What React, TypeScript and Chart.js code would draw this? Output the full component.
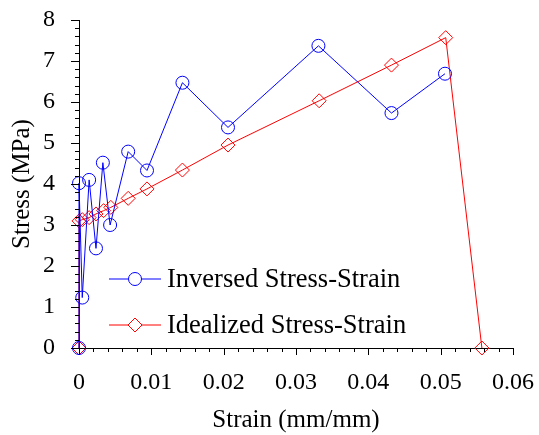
import React, { useEffect, useRef } from "react";
import { Chart, registerables } from "chart.js";

Chart.register(...registerables);

// Shared strain values (mm/mm)
const strainValues = [0, 0, 0.00045, 0.0014, 0.00235, 0.0033, 0.0043, 0.0068, 0.0094, 0.0143, 0.0206, 0.0331, 0.0432, 0.0506];
const inversedStress = [0, 4.02, 1.23, 4.1, 2.43, 4.52, 3.0, 4.79, 4.33, 6.47, 5.38, 7.37, 5.73, 6.69];
const idealizedStrain = [0, 0, 0.00045, 0.0014, 0.00235, 0.0034, 0.0044, 0.0068, 0.0094, 0.0143, 0.0206, 0.0332, 0.0432, 0.0507, 0.0557];
const idealizedStress = [0, 3.1, 3.13, 3.18, 3.27, 3.35, 3.43, 3.65, 3.88, 4.34, 4.95, 6.03, 6.9, 7.57, 0];
const seriesNames = ["Inversed Stress-Strain", "Idealized Stress-Strain"];
const xTickLabels = ["0", "0.01", "0.02", "0.03", "0.04", "0.05", "0.06"];
const yTickLabels = ["0", "1", "2", "3", "4", "5", "6", "7", "8"];
const xTitle = "Strain (mm/mm)";
const yTitle = "Stress (MPa)";

const FONT = "'Liberation Serif', 'Times New Roman', serif";
const BLUE = "#0000ff";
const RED = "#ff0000";

const tickPlugin = {
  id: "minorTicks",
  afterDraw(chart: any) {
    const ctx = chart.ctx;
    const xs = chart.scales.x;
    const ys = chart.scales.y;
    ctx.save();
    ctx.strokeStyle = "#000";
    ctx.lineWidth = 1;
    ctx.beginPath();
    for (let i = 0; i <= 30; i++) {
      const v = i * 0.002;
      const px = Math.round(xs.getPixelForValue(v)) + 0.5;
      const len = i % 5 === 0 ? 7 : 4;
      ctx.moveTo(px, ys.bottom);
      ctx.lineTo(px, ys.bottom + len);
    }
    for (let i = 0; i <= 40; i++) {
      const v = i * 0.2;
      const py = Math.round(ys.getPixelForValue(v)) + 0.5;
      const len = i % 5 === 0 ? 8 : 4;
      ctx.moveTo(xs.left, py);
      ctx.lineTo(xs.left - len, py);
    }
    ctx.stroke();
    ctx.restore();
  },
};

const legendPlugin = {
  id: "insideLegend",
  afterDraw(chart: any) {
    const ctx = chart.ctx;
    const area = chart.chartArea;
    const rows = [
      { name: seriesNames[0], color: BLUE, style: "circle", dy: 259 },
      { name: seriesNames[1], color: RED, style: "diamond", dy: 305 },
    ];
    ctx.save();
    rows.forEach((r) => {
      const y = area.top + r.dy;
      const x0 = area.left + 30;
      const x1 = area.left + 82;
      const cx = (x0 + x1) / 2;
      ctx.strokeStyle = r.color;
      ctx.lineWidth = 1;
      ctx.beginPath();
      ctx.moveTo(x0, y);
      ctx.lineTo(x1, y);
      ctx.stroke();
      ctx.fillStyle = "#fff";
      ctx.beginPath();
      if (r.style === "circle") {
        ctx.arc(cx, y, 6.5, 0, Math.PI * 2);
      } else {
        const s = 7;
        ctx.moveTo(cx, y - s);
        ctx.lineTo(cx + s, y);
        ctx.lineTo(cx, y + s);
        ctx.lineTo(cx - s, y);
        ctx.closePath();
      }
      ctx.fill();
      ctx.stroke();
      ctx.fillStyle = "#000";
      ctx.font = `26.5px ${FONT}`;
      ctx.textAlign = "left";
      ctx.textBaseline = "middle";
      ctx.fillText(r.name, x1 + 6, y + 1);
    });
    ctx.restore();
  },
};

export default function App() {
  const ref = useRef<HTMLCanvasElement>(null);
  useEffect(() => {
    if (!ref.current) return;
    const chart = new Chart(ref.current, {
      type: "scatter",
      data: {
        datasets: [
          {
            label: seriesNames[0],
            data: strainValues.map((x, i) => ({ x, y: inversedStress[i] })),
            showLine: true,
            clip: false,
            borderColor: BLUE,
            borderWidth: 1,
            backgroundColor: "rgba(0,0,0,0)",
            pointStyle: "circle",
            pointRadius: 6.5,
            pointBorderWidth: 1,
            pointBorderColor: BLUE,
            pointBackgroundColor: "rgba(0,0,0,0)",
          },
          {
            label: seriesNames[1],
            data: idealizedStrain.map((x, i) => ({ x, y: idealizedStress[i] })),
            showLine: true,
            clip: false,
            borderColor: RED,
            borderWidth: 1,
            backgroundColor: "rgba(0,0,0,0)",
            pointStyle: "rectRot",
            pointRadius: 7,
            pointBorderWidth: 1,
            pointBorderColor: RED,
            pointBackgroundColor: "rgba(0,0,0,0)",
          },
        ],
      },
      options: {
        responsive: false,
        animation: false,
        layout: { padding: { top: 20, right: 26, left: 0, bottom: 0 } },
        plugins: { legend: { display: false }, tooltip: { enabled: false } },
        scales: {
          x: {
            type: "linear",
            min: 0,
            max: 0.06,
            afterFit: (s: any) => {
              s.height = 87;
              s.paddingLeft = 0;
              s.paddingRight = 0;
            },
            grid: { display: true, drawOnChartArea: false, drawTicks: false, color: "#000" },
            border: { display: true, color: "#000", width: 1 },
            ticks: {
              stepSize: 0.01,
              autoSkip: false,
              maxRotation: 0,
              padding: 20,
              color: "#000",
              font: { family: FONT, size: 24 },
              callback: (v: any) => {
                const idx = Math.round(Number(v) / 0.01);
                return xTickLabels[idx] ?? "";
              },
            },
            title: {
              display: true,
              text: xTitle,
              color: "#000",
              font: { family: FONT, size: 25 },
              padding: { top: 0, bottom: 0 },
            },
          },
          y: {
            type: "linear",
            min: 0,
            max: 8,
            afterFit: (s: any) => {
              s.width = 79;
              s.paddingTop = 0;
              s.paddingBottom = 0;
            },
            grid: { display: true, drawOnChartArea: false, drawTicks: false, color: "#000" },
            border: { display: true, color: "#000", width: 1 },
            ticks: {
              stepSize: 1,
              autoSkip: false,
              padding: 24,
              color: "#000",
              font: { family: FONT, size: 24 },
              callback: (v: any) => {
                const idx = Math.round(Number(v));
                return yTickLabels[idx] ?? "";
              },
            },
            title: {
              display: true,
              text: yTitle,
              color: "#000",
              font: { family: FONT, size: 25 },
              padding: { top: 7, bottom: 0 },
            },
          },
        },
      },
      plugins: [tickPlugin, legendPlugin],
    });
    return () => chart.destroy();
  }, []);
  return (
    <div style={{ position: "fixed", left: 0, top: 0, width: 539, height: 435, background: "#fff" }}>
      <canvas ref={ref} width={539} height={435} style={{ display: "block" }} />
    </div>
  );
}
